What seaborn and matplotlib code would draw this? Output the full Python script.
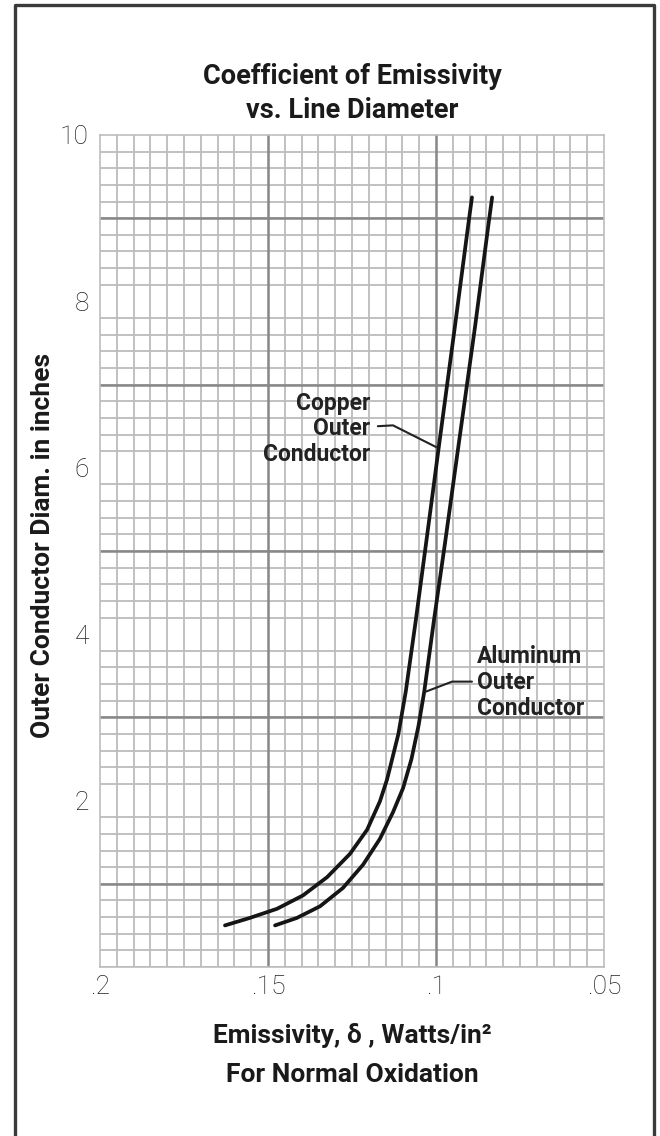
import numpy as np
import pandas as pd
import matplotlib
matplotlib.use("Agg")
import matplotlib.pyplot as plt
from matplotlib.lines import Line2D
import seaborn as sns

# Outer conductor diameter (in) vs. emissivity (W/in^2), normal oxidation
copper_diam = [0.50, 0.59, 0.70, 0.86, 1.08, 1.36, 1.65, 1.99, 2.25, 2.41,
               2.80, 3.31, 4.17, 5.17, 6.21, 7.69, 8.89, 9.25]
copper_emiss = [0.1628, 0.1554, 0.1473, 0.1396, 0.1324, 0.1256, 0.1205, 0.1167,
                0.1146, 0.1136, 0.1112, 0.1090, 0.1060, 0.1027, 0.0993, 0.0944,
                0.0905, 0.0893]

alum_diam = [0.50, 0.59, 0.73, 0.95, 1.23, 1.54, 1.86, 2.15, 2.50, 2.90,
             3.31, 4.17, 5.10, 6.21, 7.69, 8.89, 9.25]
alum_emiss = [0.1479, 0.1414, 0.1345, 0.1277, 0.1217, 0.1167, 0.1128, 0.1098,
              0.1073, 0.1052, 0.1035, 0.1006, 0.0973, 0.0935, 0.0884, 0.0845, 0.0833]

x_ticks = [0.2, 0.15, 0.1, 0.05]
x_tick_labels = [".2", ".15", ".1", ".05"]
y_ticks = [2, 4, 6, 8, 10]
y_tick_labels = ["2", "4", "6", "8", "10"]

df = pd.concat([
    pd.DataFrame({"emiss": copper_emiss, "diam": copper_diam, "metal": "Copper"}),
    pd.DataFrame({"emiss": alum_emiss, "diam": alum_diam, "metal": "Aluminum"}),
], ignore_index=True)

sns.set_theme(style="white")
plt.rcParams["font.family"] = ["Roboto", "DejaVu Sans"]

W, H = 660, 1136
fig = plt.figure(figsize=(W / 100, H / 100), dpi=100)
fig.patch.set_facecolor("white")

ax_l, ax_r, ax_t, ax_b = 100, 604, 135, 967
ax = fig.add_axes([ax_l / W, 1 - ax_b / H, (ax_r - ax_l) / W, (ax_b - ax_t) / H])
ax.set_facecolor("white")

# graph-paper grid
ax.set_xlim(0.2, 0.05)
ax.set_ylim(0, 10)
ax.set_xticks(np.arange(0.05, 0.2001, 0.005), minor=True)
ax.set_yticks(np.arange(0, 10.001, 0.2), minor=True)
ax.grid(which="minor", color="#bcbcbc", linewidth=1.3)
ax.grid(which="major", visible=False)
for yv in [1, 3, 5, 7, 9]:
    ax.axhline(yv, color="#878787", linewidth=1.8, zorder=1)
for xv in [0.15, 0.1]:
    ax.axvline(xv, color="#878787", linewidth=1.8, zorder=1)
for s in ax.spines.values():
    s.set_color("#bdbdbd")
    s.set_linewidth(1.2)

sns.lineplot(data=df, x="emiss", y="diam", hue="metal", units="metal",
             estimator=None, sort=False, palette=["#151515", "#151515"],
             linewidth=2.7, legend=False, ax=ax, zorder=5)
for ln in ax.get_lines():
    ln.set_solid_joinstyle("round")
    ln.set_solid_capstyle("round")

ax.set_xticks(x_ticks)
ax.set_xticklabels(x_tick_labels)
ax.set_yticks(y_ticks)
ax.set_yticklabels(y_tick_labels)
ax.tick_params(which="both", length=0)
ax.tick_params(axis="x", pad=6)
ax.tick_params(axis="y", pad=8)
for lab in ax.get_xticklabels() + ax.get_yticklabels():
    lab.set_fontsize(19)
    lab.set_fontweight("light")
    lab.set_color("#222222")
ax.set_xlabel("")
ax.set_ylabel("")

# curve annotations
ax.text(0.1196, 6.47, "Copper\nOuter\nConductor", ha="right", va="center",
        multialignment="right", fontsize=16.5, fontweight="bold", color="#222222",
        linespacing=1.13, zorder=6)
ax.plot([0.1173, 0.1128, 0.1000], [6.50, 6.51, 6.25], color="#222222",
        linewidth=1.5, zorder=6)
ax.text(0.0878, 3.42, "Aluminum\nOuter\nConductor", ha="left", va="center",
        multialignment="left", fontsize=16.5, fontweight="bold", color="#222222",
        linespacing=1.15, zorder=6, clip_on=True)
ax.plot([0.0893, 0.0952, 0.1030], [3.43, 3.43, 3.31], color="#222222",
        linewidth=1.5, zorder=6)

# titles and axis captions
cx = (ax_l + ax_r) / 2 / W
fig.text(cx, 1 - 76 / H, "Coefficient of Emissivity", ha="center", va="center",
         fontsize=19.5, fontweight="bold", color="#1a1a1a")
fig.text(cx, 1 - 110 / H, "vs. Line Diameter", ha="center", va="center",
         fontsize=19.5, fontweight="bold", color="#1a1a1a")
fig.text(cx, 1 - 1035 / H, "Emissivity, δ , Watts/in²", ha="center", va="center",
         fontsize=19, fontweight="bold", color="#1a1a1a")
fig.text(cx, 1 - 1075 / H, "For Normal Oxidation", ha="center", va="center",
         fontsize=19, fontweight="bold", color="#1a1a1a")
fig.text(43 / W, 1 - 545 / H, "Outer Conductor Diam. in inches", ha="center",
         va="center", rotation=90, fontsize=19, fontweight="bold", color="#1a1a1a")

# page frame
fx0, fx1, fy1 = 15 / W, 654 / W, 1 - 5 / H
fig.add_artist(Line2D([fx0, fx0, fx1, fx1], [-0.01, fy1, fy1, -0.01],
                      transform=fig.transFigure, color="#3a3a3a", linewidth=2.4))

fig.savefig("out.png", dpi=100, facecolor="white")
